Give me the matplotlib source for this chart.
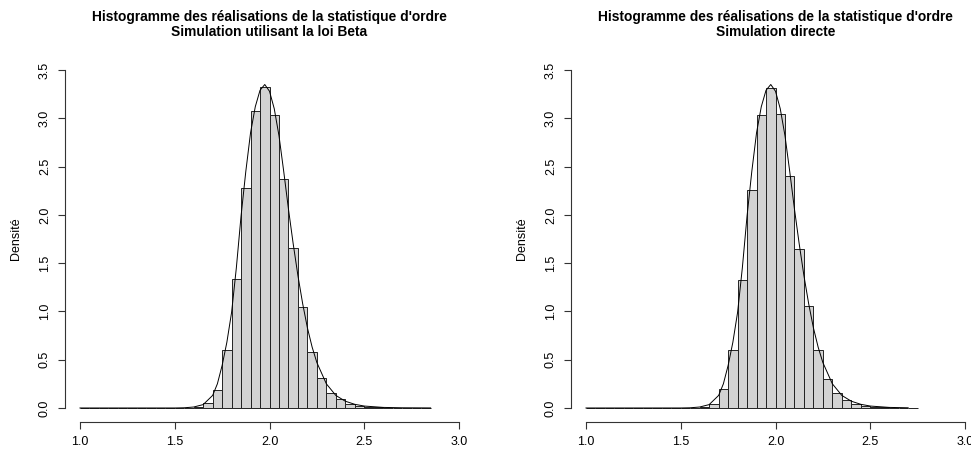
import matplotlib
matplotlib.use("Agg")
import matplotlib.pyplot as plt
import numpy as np

plt.rcParams['font.family'] = ['Liberation Sans', 'DejaVu Sans']

# bins of width 0.05 starting at 1.0
bin_width = 0.05
bin_start = 1.0

# density heights (left: beta simulation, right: direct)
dens_beta = [0, 0, 0, 0, 0, 0, 0, 0, 0, 0, 0,
             0.002, 0.012, 0.05, 0.19, 0.60, 1.34, 2.28, 3.08, 3.32, 3.03,
             2.37, 1.66, 1.05, 0.58, 0.31, 0.16, 0.09, 0.045, 0.022, 0.012,
             0.006, 0.003, 0.002, 0.001, 0.0005, 0.0005]
dens_direct = [0, 0, 0, 0, 0, 0, 0, 0, 0, 0, 0,
               0.002, 0.01, 0.04, 0.20, 0.60, 1.33, 2.26, 3.03, 3.31, 3.04,
               2.40, 1.65, 1.06, 0.60, 0.30, 0.16, 0.08, 0.04, 0.02, 0.01,
               0.005, 0.003, 0.001, 0.001]

# theoretical density curve
curve_x = [1.00, 1.50, 1.55, 1.60, 1.65, 1.70, 1.725, 1.75, 1.775, 1.80,
           1.825, 1.85, 1.875, 1.90, 1.925, 1.95, 1.975, 2.00, 2.025, 2.05,
           2.075, 2.10, 2.125, 2.15, 2.175, 2.20, 2.225, 2.25, 2.30, 2.35,
           2.40, 2.45, 2.50, 2.60, 2.70, 2.85]
curve_y = [0, 0, 0.002, 0.01, 0.035, 0.13, 0.25, 0.44, 0.68, 0.99,
           1.45, 1.99, 2.45, 2.85, 3.12, 3.29, 3.35, 3.28, 3.10, 2.82,
           2.45, 2.06, 1.70, 1.37, 1.08, 0.83, 0.63, 0.47, 0.25, 0.13,
           0.07, 0.038, 0.02, 0.006, 0.002, 0.0005]

title_top = "Histogramme des réalisations de la statistique d'ordre"
subtitles = ["Simulation utilisant la loi Beta", "Simulation directe"]

W, H = 971, 449
fig = plt.figure(figsize=(W / 100, H / 100), dpi=100)

panels = [(64.8, dens_beta), (570.8, dens_direct)]
pw = 409.4
ptop, pbot = 56.5, 421.5

for i, (px, dens) in enumerate(panels):
    ax = fig.add_axes([px / W, 1 - pbot / H, pw / W, (pbot - ptop) / H])
    lefts = bin_start + bin_width * np.arange(len(dens))
    ax.bar(lefts, dens, width=bin_width, align='edge', color='#d3d3d3',
           edgecolor='#222222', linewidth=0.7)
    xend = lefts[-1] + bin_width
    cx = [x for x in curve_x if x <= xend + 1e-9]
    cy = curve_y[:len(cx)]
    ax.plot(cx, cy, color='black', linewidth=0.7)

    ax.set_xlim(0.92, 3.08)
    ax.set_ylim(-0.14, 3.64)
    for s in ['top', 'right']:
        ax.spines[s].set_visible(False)
    ax.spines['left'].set_bounds(0, 3.5)
    ax.spines['bottom'].set_bounds(1, 3)
    for s in ['left', 'bottom']:
        ax.spines[s].set_linewidth(0.8)
        ax.spines[s].set_color('#333333')
    ax.set_xticks([1.0, 1.5, 2.0, 2.5, 3.0])
    ax.set_yticks(np.arange(0, 3.51, 0.5))
    ax.set_xticklabels(["%.1f" % v for v in [1.0, 1.5, 2.0, 2.5, 3.0]])
    ax.set_yticklabels(["%.1f" % v for v in np.arange(0, 3.51, 0.5)],
                       rotation=90, va='center')
    ax.tick_params(direction='out', length=5, width=0.8, color='#333333',
                   labelsize=9)
    ax.tick_params(axis='x', pad=5.5)
    ax.tick_params(axis='y', pad=5)
    ax.set_ylabel("Densité", fontsize=9, labelpad=12)

    cxp = (px + pw / 2) / W
    fig.text(cxp, 1 - 21.5 / H, title_top, ha='center', va='baseline',
             fontsize=9.9, fontweight='bold')
    fig.text(cxp, 1 - 36.5 / H, subtitles[i], ha='center', va='baseline',
             fontsize=9.9, fontweight='bold')

fig.savefig("out.png", dpi=100)
